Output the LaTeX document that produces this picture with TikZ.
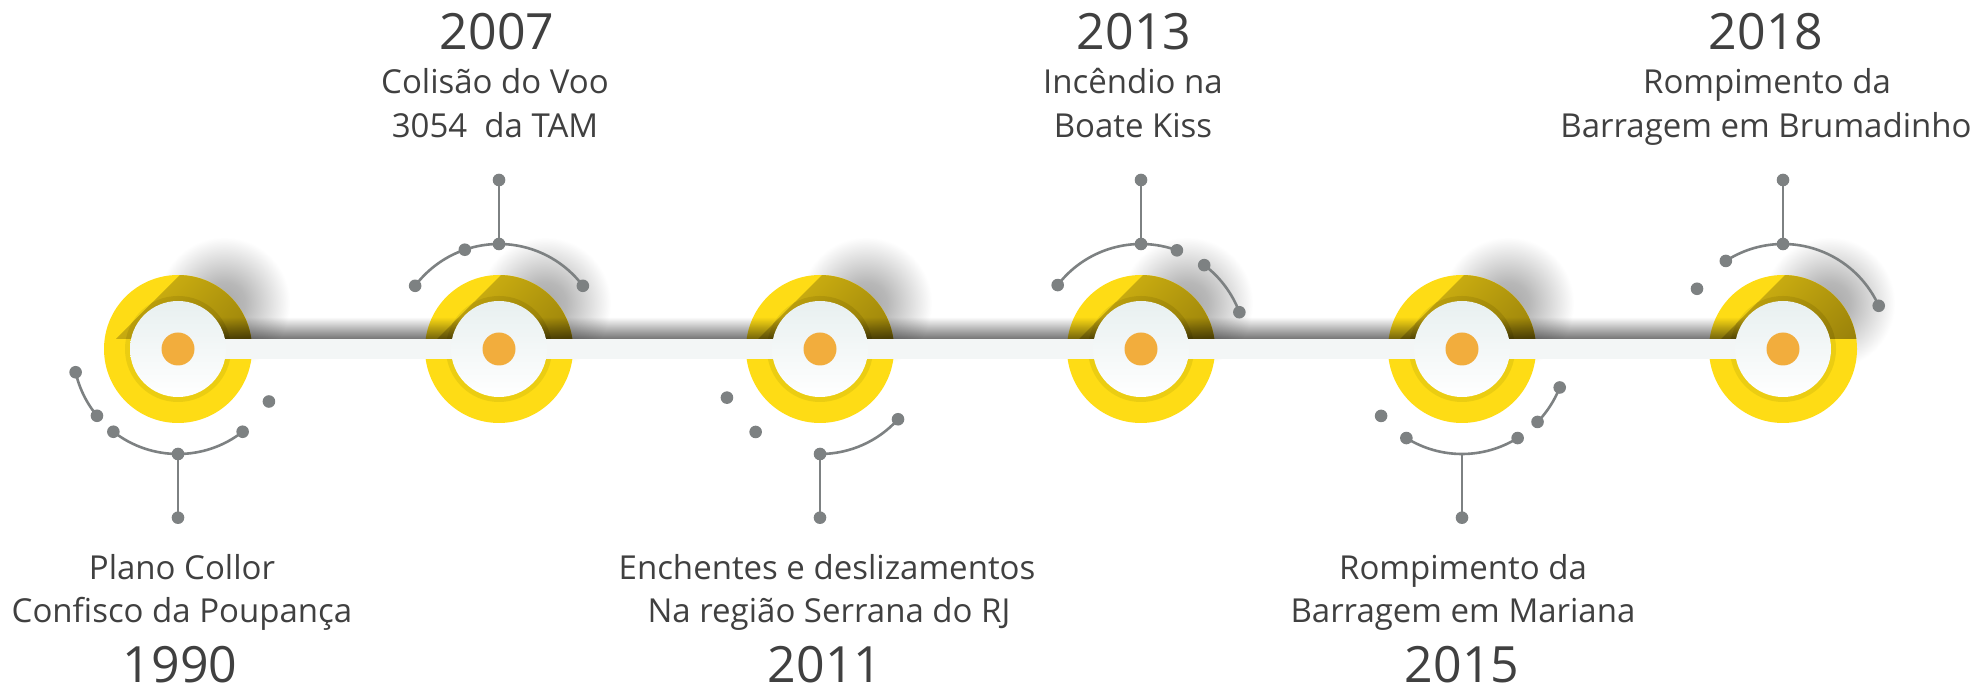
\documentclass[tikz,border=0pt]{standalone}
\usepackage{fontspec}
\setmainfont{Open Sans}
\usetikzlibrary{fadings,calc}
\definecolor{ringY}{HTML}{FEDC15}
\definecolor{ringIn}{HTML}{EBCD12}
\definecolor{dotO}{HTML}{F2AD3D}
\definecolor{barC}{HTML}{F3F6F6}
\definecolor{lineG}{HTML}{7D8182}
\definecolor{txt}{HTML}{404040}
\definecolor{innerTop}{HTML}{E8F0F0}
\definecolor{shA}{HTML}{DCBD13}
\definecolor{shB}{HTML}{9A820A}
\definecolor{shAi}{HTML}{CDAF10}
\definecolor{shBi}{HTML}{8A7406}
\pgfdeclareradialshading{ringshadow}{\pgfpoint{0bp}{0bp}}{color(0bp)=(black!34); color(8bp)=(black!28); color(25bp)=(white); color(50bp)=(white)}
\tikzfading[name=fadeup, top color=transparent!100, bottom color=transparent!0]
\begin{document}
\begin{tikzpicture}[x=1pt,y=1pt,
  conn/.style={draw=lineG, line width=2.6pt},
  dotf/.style={fill=lineG},
  yr/.style={text=txt, font=\fontsize{50}{60}\selectfont, anchor=base, inner sep=0pt},
  lbl/.style={text=txt, font=\fontsize{33}{40}\selectfont, anchor=base, inner sep=0pt}]
\fill[white] (0,0) rectangle (1982,691);
\useasboundingbox (0,0) rectangle (1982,691);

\foreach \i/\x in {1/178,2/499,3/820,4/1141,5/1462,6/1783} { \coordinate (c\i) at (\x,342); }

% drop shadows
\foreach \i in {1,...,6} { \shade[shading=ringshadow] ($(c\i)+(46,46)$) circle (66); }
% rings
\foreach \i in {1,...,6} {
  \fill[ringY] (c\i) circle (74);
  \fill[ringIn] (c\i) circle (53);
  \begin{scope}
    \clip (c\i) circle (74);
    \shade[top color=shA, bottom color=shB, shading angle=45]
      ($(c\i)+(-62,10)$) -- ($(c\i)+(38,110)$) -- ($(c\i)+(110,110)$) -- ($(c\i)+(110,10)$) -- cycle;
  \end{scope}
  \begin{scope}
    \clip (c\i) circle (53);
    \shade[top color=shAi, bottom color=shBi, shading angle=45]
      ($(c\i)+(-62,10)$) -- ($(c\i)+(38,110)$) -- ($(c\i)+(110,110)$) -- ($(c\i)+(110,10)$) -- cycle;
  \end{scope}
}
% bar shadow and bar
\fill[black, path fading=fadeup, fill opacity=0.55] ($(c1)+(0,10)$) rectangle ($(c6)+(0,32)$);
\fill[barC] ($(c1)+(0,-10)$) rectangle ($(c6)+(0,10)$);
% inner discs
\foreach \i in {1,...,6} {
  \shade[top color=innerTop, bottom color=white] (c\i) circle (48);
  \fill[dotO] (c\i) circle (16.5);
}

% ---- connectors ----
% circle 1
\coordinate (a1) at ($(c1)+(192.8:105)$);
\coordinate (b1) at ($(c1)+(219.5:105)$);
\coordinate (d1) at ($(c1)+(232:105)$);
\coordinate (e1) at ($(c1)+(308:105)$);
\coordinate (j1) at ($(c1)+(0,-105)$);
\coordinate (t1) at ($(c1)+(0,-168.7)$);
\coordinate (f1) at ($(c1)+(330:105)$);
\draw[conn] (a1) arc[start angle=192.8, end angle=219.5, radius=105];
\draw[conn] (d1) arc[start angle=232, end angle=308, radius=105];
\draw[conn] (j1) -- (t1);
\foreach \p in {a1,b1,d1,e1,j1,t1,f1} { \fill[dotf] (\p) circle (6.3); }
% circle 2
\coordinate (a2) at ($(c2)+(143:105)$);
\coordinate (b2) at ($(c2)+(37:105)$);
\coordinate (j2) at ($(c2)+(0,105)$);
\coordinate (m2) at ($(c2)+(109:105)$);
\coordinate (t2) at ($(c2)+(0,169)$);
\draw[conn] (a2) arc[start angle=143, end angle=37, radius=105];
\draw[conn] (j2) -- (t2);
\foreach \p in {a2,b2,j2,m2,t2} { \fill[dotf] (\p) circle (6.3); }
% circle 3
\coordinate (a3) at ($(c3)+(207.6:105)$);
\coordinate (b3) at ($(c3)+(232.2:105)$);
\coordinate (j3) at ($(c3)+(0,-105)$);
\coordinate (e3) at ($(c3)+(318:105)$);
\coordinate (t3) at ($(c3)+(0,-168.7)$);
\draw[conn] (j3) arc[start angle=270, end angle=318, radius=105];
\draw[conn] (j3) -- (t3);
\foreach \p in {a3,b3,j3,e3,t3} { \fill[dotf] (\p) circle (6.3); }
% circle 4
\coordinate (a4) at ($(c4)+(142.5:105)$);
\coordinate (e4) at ($(c4)+(70:105)$);
\coordinate (j4) at ($(c4)+(0,105)$);
\coordinate (t4) at ($(c4)+(0,169)$);
\coordinate (g4) at ($(c4)+(53:105)$);
\coordinate (h4) at ($(c4)+(20.5:105)$);
\draw[conn] (a4) arc[start angle=142.5, end angle=70, radius=105];
\draw[conn] (g4) arc[start angle=53, end angle=20.5, radius=105];
\draw[conn] (j4) -- (t4);
\foreach \p in {a4,e4,j4,t4,g4,h4} { \fill[dotf] (\p) circle (6.3); }
% circle 5
\coordinate (a5) at ($(c5)+(219.6:105)$);
\coordinate (d5) at ($(c5)+(238:105)$);
\coordinate (e5) at ($(c5)+(302:105)$);
\coordinate (j5) at ($(c5)+(0,-105)$);
\coordinate (t5) at ($(c5)+(0,-168.7)$);
\coordinate (g5) at ($(c5)+(316:105)$);
\coordinate (h5) at ($(c5)+(338.5:105)$);
\draw[conn] (d5) arc[start angle=238, end angle=302, radius=105];
\draw[conn] (g5) arc[start angle=316, end angle=338.5, radius=105];
\draw[conn] (j5) -- (t5);
\foreach \p in {a5,d5,e5,t5,g5,h5} { \fill[dotf] (\p) circle (6.3); }
% circle 6
\coordinate (a6) at ($(c6)+(145:105)$);
\coordinate (d6) at ($(c6)+(123:105)$);
\coordinate (e6) at ($(c6)+(24.3:105)$);
\coordinate (j6) at ($(c6)+(0,105)$);
\coordinate (t6) at ($(c6)+(0,169)$);
\draw[conn] (d6) arc[start angle=123, end angle=24.3, radius=105];
\draw[conn] (j6) -- (t6);
\foreach \p in {a6,d6,e6,j6,t6} { \fill[dotf] (\p) circle (6.3); }

% ---- texts ----
\node[yr]  (y2007) at (497,641) {2007};
\node[lbl] (l2007a) at (495,597) {Colisão do Voo};
\node[lbl] (l2007b) at (495,553) {3054\ \ da TAM};
\node[yr]  (y2013) at (1134,641) {2013};
\node[lbl] (l2013a) at (1133,597) {Incêndio na};
\node[lbl] (l2013b) at (1133,553) {Boate Kiss};
\node[yr]  (y2018) at (1766,641) {2018};
\node[lbl] (l2018a) at (1767,597) {Rompimento da};
\node[lbl] (l2018b) at (1766,553) {Barragem em Brumadinho};

\node[lbl] (l1990a) at (182,111) {Plano Collor};
\node[lbl] (l1990b) at (182,68) {Confisco da Poupança};
\node[yr]  (y1990) at (180,9) {1990};
\node[lbl] (l2011a) at (827,111) {Enchentes e deslizamentos};
\node[lbl] (l2011b) at (829,68) {Na região Serrana do RJ};
\node[yr]  (y2011) at (825,9) {2011};
\node[lbl] (l2015a) at (1463,111) {Rompimento da};
\node[lbl] (l2015b) at (1463,68) {Barragem em Mariana};
\node[yr]  (y2015) at (1462,9) {2015};
\end{tikzpicture}
\end{document}
